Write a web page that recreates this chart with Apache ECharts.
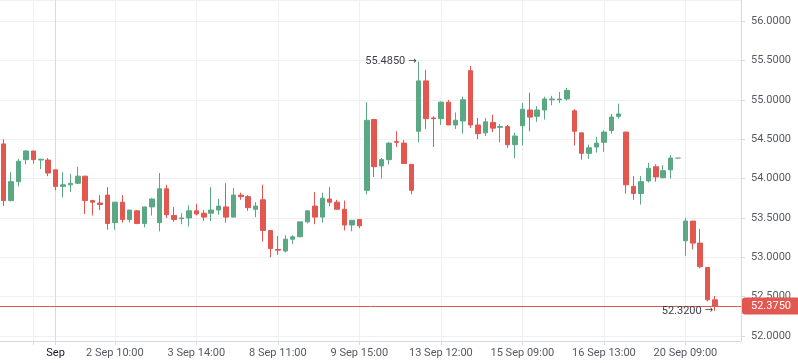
<!DOCTYPE html>
<html><head><meta charset="utf-8">
<script src="https://cdn.jsdelivr.net/npm/echarts@6/dist/echarts.min.js"></script>
<style>html,body{margin:0;padding:0;background:#fff}#c{width:798px;height:363px}</style>
</head><body><div id="c"></div>
<script>
// Hourly bars, index 0..96
const opens  = [54.44,53.72,53.96,54.24,54.35,54.235,54.235,54.11,53.90,53.92,53.94,54.03,53.72,53.69,53.79,53.44,53.70,53.48,53.59,53.43,53.64,53.44,53.87,53.53,53.49,53.50,53.59,53.56,53.56,53.60,53.64,53.51,53.79,53.77,53.61,53.73,53.34,53.10,53.08,53.23,53.26,53.45,53.65,53.51,53.74,53.70,53.61,53.41,53.48,53.85,54.75,54.16,54.24,54.47,54.45,54.18,54.60,55.24,54.77,54.76,54.97,54.68,54.73,55.37,54.68,54.58,54.71,54.65,54.66,54.43,54.67,54.87,54.79,54.87,55.00,55.00,55.01,54.86,54.58,54.32,54.40,54.46,54.61,54.79,54.59,53.90,53.81,53.97,54.15,54.01,54.11,54.26,53.21,53.46,53.18,52.87,52.46];
const closes = [53.72,53.96,54.22,54.35,54.24,54.245,54.07,53.90,53.92,53.94,54.03,53.72,53.70,53.67,53.43,53.70,53.48,53.60,53.43,53.64,53.74,53.87,53.54,53.48,53.50,53.59,53.55,53.51,53.60,53.65,53.51,53.79,53.77,53.63,53.65,53.34,53.11,53.09,53.23,53.26,53.45,53.59,53.51,53.75,53.70,53.61,53.41,53.47,53.40,54.74,54.15,54.24,54.45,54.46,54.19,53.85,55.24,54.76,54.76,54.97,54.68,54.74,55.00,54.68,54.57,54.72,54.64,54.66,54.43,54.54,54.88,54.78,54.87,55.01,55.01,55.01,55.12,54.60,54.32,54.39,54.45,54.59,54.78,54.82,53.92,53.81,53.96,54.13,54.02,54.10,54.26,54.26,53.46,53.18,52.88,52.46,52.375];
const lows   = [53.65,53.71,53.90,54.18,54.19,54.12,54.03,53.85,53.76,53.83,53.93,53.55,53.53,53.60,53.35,53.35,53.44,53.44,53.42,53.38,53.53,53.33,53.50,53.45,53.42,53.39,53.53,53.46,53.46,53.54,53.44,53.51,53.73,53.59,53.51,53.20,53.00,53.03,53.06,53.17,53.26,53.43,53.42,53.44,53.65,53.61,53.34,53.33,53.37,53.80,54.02,54.00,54.18,54.40,54.19,53.80,54.46,54.63,54.40,54.68,54.68,54.63,54.57,54.64,54.50,54.54,54.59,54.46,54.39,54.26,54.42,54.60,54.72,54.75,54.93,54.96,54.99,54.42,54.24,54.25,54.33,54.34,54.57,54.76,53.81,53.73,53.67,53.95,53.96,54.01,54.00,54.26,53.02,53.10,52.86,52.44,52.32];
const highs  = [54.50,54.08,54.25,54.36,54.35,54.25,54.26,54.11,54.08,54.06,54.15,54.03,53.73,53.79,53.89,53.70,53.79,53.60,53.60,53.64,53.75,54.07,53.92,53.64,53.56,53.66,53.68,53.60,53.89,53.74,53.94,53.88,53.82,53.79,53.70,53.92,53.34,53.27,53.28,53.28,53.45,53.59,53.83,53.82,53.89,53.73,53.72,53.47,53.48,54.97,54.75,54.26,54.46,54.60,54.49,54.18,55.485,55.38,54.79,54.98,55.00,54.84,55.04,55.43,54.77,54.77,54.81,54.69,54.68,54.58,54.96,55.09,54.92,55.04,55.05,55.10,55.15,54.88,54.58,54.43,54.53,54.61,54.82,54.95,54.59,54.03,54.03,54.20,54.18,54.17,54.30,54.26,53.50,53.46,53.36,52.87,52.51];
const slotCount = 100; // bars plus empty right margin
const categories = Array.from({length: slotCount}, (_, i) => String(i));
const tickIndex = [4, 7, 15, 26, 37, 48, 59, 70, 81, 92];
const tickText  = ['', 'Sep', '2 Sep 10:00', '3 Sep 14:00', '8 Sep 11:00', '9 Sep 15:00', '13 Sep 12:00', '15 Sep 09:00', '16 Sep 13:00', '20 Sep 09:00'];
const highMark = {index: 56, value: 55.485};
const lowMark = {index: 96, value: 52.32};
const lastPrice = 52.375;

const UP = '#5aa884', DOWN = '#e2574f', FONT = 'Roboto, "Noto Sans", sans-serif';
const data = opens.map((o, i) => [o, closes[i], lows[i], highs[i]]);
const isTick = (i) => tickIndex.indexOf(i) >= 0;
const isLabel = (i) => { const k = tickIndex.indexOf(i); return k >= 0 && tickText[k] !== ''; };

const chart = echarts.init(document.getElementById('c'), null, {renderer: 'canvas'});
chart.setOption({
  backgroundColor: '#ffffff',
  animation: false,
  textStyle: {fontFamily: FONT},
  grid: {left: 0, right: 57, top: 0, bottom: 22},
  xAxis: {
    type: 'category', data: categories, boundaryGap: true,
    axisLine: {show: true, lineStyle: {color: '#d6d9de'}},
    axisTick: {show: true, alignWithLabel: true, interval: (i) => isTick(i), length: 4, lineStyle: {color: '#d6d9de'}},
    axisLabel: {
      interval: (i) => isLabel(i), margin: 7, fontSize: 11, color: '#555a62', fontFamily: FONT,
      formatter: (v, i) => { const k = tickIndex.indexOf(i); const t = k >= 0 ? tickText[k] : ''; return i === 7 ? '{b|' + t + '}' : t; },
      rich: {b: {color: '#131722', fontSize: 11, fontFamily: FONT}}
    },
    splitLine: {show: true, alignWithLabel: true, interval: (i) => isTick(i),
      lineStyle: {color: tickIndex.map(i => i === 7 ? '#d8dbe0' : '#eef0f3'), width: 1}}
  },
  yAxis: {
    type: 'value', position: 'right', scale: true,
    min: 51.937, max: 56.267, splitNumber: 8,
    axisLine: {show: true, lineStyle: {color: '#d6d9de'}},
    axisTick: {show: true, length: 4, lineStyle: {color: '#d6d9de'}},
    axisLabel: {showMinLabel: false, showMaxLabel: false, margin: 10, fontSize: 11, color: '#555a62', fontFamily: FONT,
      formatter: (v) => v.toFixed(4)},
    splitLine: {show: true, lineStyle: {color: '#eef0f3'}}
  },
  series: [{
    type: 'candlestick', data: data, barWidth: 5, clip: false,
    itemStyle: {color: UP, color0: DOWN, borderColor: UP, borderColor0: DOWN, borderColorDoji: '#9aa0a8', borderWidth: 1},
    markLine: {
      silent: true, symbol: 'none', animation: false,
      lineStyle: {color: DOWN, type: 'solid', width: 1},
      label: {show: true, position: 'end', distance: 1, formatter: () => lastPrice.toFixed(4),
        color: '#ffffff', backgroundColor: DOWN, padding: [3, 9, 3, 9], borderRadius: 3, fontSize: 11, fontFamily: FONT},
      data: [{yAxis: lastPrice}]
    },
    markPoint: {
      silent: true, symbol: 'circle', symbolSize: 0, animation: false,
      label: {show: true, position: 'left', distance: 2, color: '#3d4148', fontSize: 11, fontFamily: FONT,
        formatter: (p) => '{v|' + p.value.toFixed(4) + '}{a|\u2192}',
        rich: {v: {fontSize: 11, fontFamily: FONT, color: '#3d4148', padding: [0, 3, 0, 0]},
               a: {fontSize: 10, fontFamily: '"DejaVu Sans", sans-serif', color: '#3d4148'}}},
      data: [
        {coord: [highMark.index, highMark.value], value: highMark.value},
        {coord: [lowMark.index, lowMark.value], value: lowMark.value}
      ]
    }
  }]
});
</script></body></html>
